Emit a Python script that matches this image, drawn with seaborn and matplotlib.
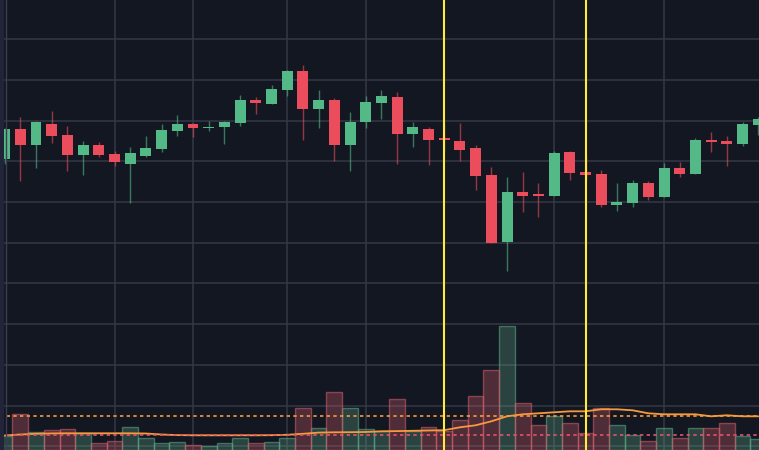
import numpy as np
import pandas as pd
import matplotlib
matplotlib.use("Agg")
import matplotlib.pyplot as plt
import seaborn as sns
from matplotlib.patches import Rectangle
from matplotlib.lines import Line2D

# ---------------- data ----------------
opens = [100.57, 107.94, 104.00, 109.16, 106.46, 101.55, 104.00, 101.79, 99.34, 101.30,
         103.02, 107.44, 109.16, 108.18, 108.43, 109.41, 115.06, 114.08, 117.52, 122.19,
         112.85, 115.06, 104.00, 109.66, 114.32, 115.80, 106.71, 107.94, 105.48, 104.99,
         103.27, 96.64, 80.17, 92.46, 91.72, 91.47, 102.28, 97.37, 96.88, 89.26,
         89.75, 94.67, 91.23, 98.35, 96.88, 105.23, 104.99, 104.25, 108.92]
highs = [108.10, 110.88, 109.90, 112.36, 108.67, 104.99, 104.74, 102.53, 103.51, 106.22,
         109.16, 111.38, 109.41, 109.90, 109.90, 116.29, 115.80, 118.75, 122.51, 123.66,
         117.52, 115.55, 112.11, 116.04, 117.52, 117.03, 109.66, 108.43, 109.41, 109.41,
         104.00, 98.60, 96.14, 97.37, 94.67, 102.53, 102.53, 101.30, 97.86, 94.67,
         95.41, 95.16, 99.58, 99.83, 105.72, 107.20, 106.22, 109.66, 110.88]
lows = [99.41, 95.12, 98.43, 104.50, 97.62, 96.64, 101.06, 98.85, 89.83, 101.06,
        102.28, 106.22, 105.97, 107.44, 104.25, 108.67, 111.62, 114.08, 116.04, 105.23,
        108.18, 100.07, 97.62, 108.18, 110.39, 99.34, 103.51, 99.09, 102.53, 100.07,
        92.95, 79.93, 73.05, 87.54, 86.31, 91.47, 95.41, 95.41, 88.77, 87.79,
        88.77, 90.49, 91.23, 96.14, 96.88, 102.28, 98.85, 103.76, 106.46]
closes = [107.94, 104.00, 109.66, 106.22, 101.55, 104.00, 101.55, 99.83, 102.04, 103.27,
          107.69, 109.16, 108.18, 108.35, 109.66, 115.06, 114.32, 117.76, 122.19, 112.85,
          115.06, 104.00, 109.66, 114.57, 116.04, 106.71, 108.43, 105.23, 105.33, 102.78,
          96.39, 79.93, 92.46, 91.47, 91.57, 102.04, 97.13, 96.64, 89.26, 90.00,
          94.67, 91.23, 98.35, 96.88, 105.23, 104.74, 104.25, 109.16, 110.39]
volumes = [14, 36, 18, 20, 21, 17, 7, 9, 23, 12,
           7, 8, 5, 4, 7, 12, 7, 8, 12, 42,
           22, 58, 42, 21, 19, 51, 19, 23, 19, 30,
           54, 80, 124, 47, 25, 34, 27, 17, 42, 25,
           15, 9, 22, 12, 22, 22, 27, 14, 11]
volume_ma = [14.5, 15.5, 16.2, 16.6, 16.7, 16.7, 16.7, 16.7, 16.7, 16.5,
             15.5, 14.9, 14.7, 14.7, 14.7, 14.7, 14.7, 14.8, 15.2, 16.2,
             17.4, 17.7, 17.8, 18.0, 18.7, 18.9, 19.2, 19.5, 19.8, 22.7,
             24.7, 28.7, 33.7, 35.7, 36.7, 37.7, 38.7, 38.7, 40.7, 40.7,
             39.7, 36.7, 35.7, 35.7, 35.7, 33.7, 34.7, 33.7, 33.7]
volume_level_upper = 33.7
volume_level_lower = 14.7
marker_idx = [28, 37]
xgrid_idx = [7, 12, 18, 23, 35, 42]
price_grid = list(range(30, 140, 10))

# ---------------- style ----------------
BG = "#131722"
GRID = "#343846"
UP = "#53b987"
DOWN = "#eb4d5c"
ORANGE = "#f89a3c"
PINK = "#e0556b"
YELLOW = "#ffeb3b"

sns.set_theme(style="dark", rc={"axes.facecolor": BG, "figure.facecolor": BG})

n = len(opens)
idx = np.arange(n)
df = pd.DataFrame({"idx": idx, "open": opens, "high": highs, "low": lows,
                   "close": closes, "volume": volumes, "ma": volume_ma})
df["dir"] = np.where(df["close"] >= df["open"], "up", "down")

fig = plt.figure(figsize=(7.59, 4.5), dpi=100)
ax = fig.add_axes([0, 0, 1, 1])
ax.set_facecolor(BG)

# grid
ax.set_xticks(xgrid_idx)
ax.set_yticks(price_grid)
ax.grid(True, color=GRID, lw=1.1)
ax.tick_params(left=False, bottom=False, labelleft=False, labelbottom=False)
for s in ax.spines.values():
    s.set_visible(False)

# candles
up = df["dir"] == "up"
wick_col = [(*matplotlib.colors.to_rgb(UP), 0.6) if u else (*matplotlib.colors.to_rgb(DOWN), 0.6)
            for u in up]
ax.vlines(df["idx"], df["low"], df["high"], colors=wick_col, lw=1, zorder=3)
body_bottom = np.minimum(df["open"], df["close"])
body_h = np.maximum(np.abs(df["close"] - df["open"]), 0.35)
ax.bar(df["idx"], body_h, bottom=body_bottom, width=0.70,
       color=[UP if u else DOWN for u in up], linewidth=0, zorder=4)
ax.set_ylim(29.07, 139.63)

# volume pane
ax2 = ax.twinx()
ax2.patch.set_visible(False)
sns.barplot(data=df, x="idx", y="volume", hue="dir",
            palette={"up": UP, "down": DOWN}, native_scale=True, width=1.0,
            dodge=False, errorbar=None, legend=False, ax=ax2)
for p in ax2.patches:
    r, g, b, _ = p.get_facecolor()
    p.set_facecolor((r, g, b, 0.30))
    p.set_edgecolor((r, g, b, 0.55))
    p.set_linewidth(1.0)

sns.lineplot(data=df, x="idx", y="ma", ax=ax2, color=ORANGE, lw=1.3, zorder=5)
ax2.axhline(volume_level_upper, color=ORANGE, lw=1.2, ls=(0, (2, 2)), zorder=5)
ax2.axhline(volume_level_lower, color=PINK, lw=1.2, ls=(0, (2, 2)), zorder=5)
for m in marker_idx:
    ax2.axvline(m, color=YELLOW, lw=1.5, zorder=6)

ax2.set_ylim(0, 450)
ax2.set_xlabel("")
ax2.set_ylabel("")
ax2.tick_params(right=False, labelright=False, bottom=False, labelbottom=False)
ax2.grid(False)
for s in ax2.spines.values():
    s.set_visible(False)

ax.set_xlim(-0.293, 48.05)
ax2.set_xlim(-0.293, 48.05)

# left axis strip
fig.patches.append(Rectangle((0, 0), 4 / 759, 1, transform=fig.transFigure,
                             facecolor="#22253a", edgecolor="none", zorder=10))
fig.lines.append(Line2D([5.5 / 759, 5.5 / 759], [0, 1], transform=fig.transFigure,
                        color="#3a3e50", lw=1, zorder=10))

fig.savefig("out.png", dpi=100, facecolor=BG)
